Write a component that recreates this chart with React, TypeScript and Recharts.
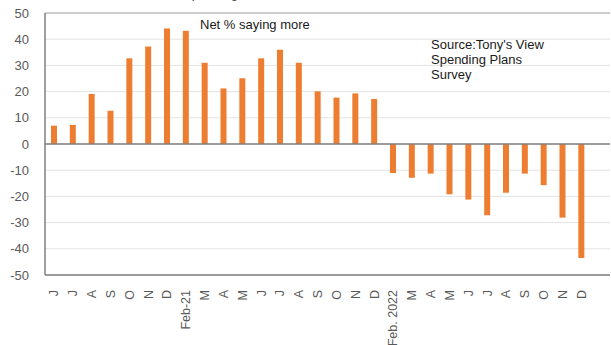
import React from "react";
import { BarChart, Bar, XAxis, YAxis, CartesianGrid, ReferenceLine } from "recharts";

// Monthly survey readings, Jun 2020 through Dec 2022 (January issues not run);
// the trailing blank slot leaves room for the next reading
const monthLabels = [
  "J", "J", "A", "S", "O", "N", "D",
  "Feb-21", "M", "A", "M", "J", "J", "A", "S", "O", "N", "D",
  "Feb. 2022", "M", "A", "M", "J", "J", "A", "S", "O", "N", "D",
  "",
];

const netSayingMore = [
  7, 7.3, 19.1, 12.7, 32.7, 37.2, 44.1,
  43.2, 31, 21.2, 25.1, 32.7, 36, 31, 20.1, 17.7, 19.3, 17.2,
  -11.1, -12.9, -11.3, -19.2, -21.2, -27.2, -18.6, -11.3, -15.7, -28.1, -43.5,
  null,
];

const yTicks = [-50, -40, -30, -20, -10, 0, 10, 20, 30, 40, 50];

const data = monthLabels.map((label, i) => ({ idx: i, label, value: netSayingMore[i] }));

const FONT = "'Liberation Sans', Arial, sans-serif";
const AXIS_TEXT = "#595959";

function MonthTick({ x, y, payload }: any) {
  const label = monthLabels[payload.value];
  return (
    <text
      transform={`translate(${x + 4},${y + 7}) rotate(-90)`}
      textAnchor="end"
      fill={AXIS_TEXT}
      fontSize={12.5}
      fontFamily={FONT}
    >
      {label}
    </text>
  );
}

export default function App() {
  return (
    <div style={{ position: "absolute", left: 0, top: 0, width: 611, height: 345, background: "#fff" }}>
      <BarChart
        width={611}
        height={345}
        data={data}
        margin={{ top: 13, right: 1, bottom: 0, left: 0 }}
        barCategoryGap={0}
      >
        <CartesianGrid vertical={false} stroke="#e3e3e3" />
        <XAxis
          dataKey="idx"
          interval={0}
          tick={<MonthTick />}
          tickLine={false}
          axisLine={{ stroke: "#7f7f7f", strokeWidth: 1.5 }}
          height={70}
        />
        <YAxis
          domain={[-50, 50]}
          ticks={yTicks}
          tick={{ fill: AXIS_TEXT, fontSize: 13, fontFamily: FONT }}
          tickLine={false}
          axisLine={{ stroke: "#7f7f7f", strokeWidth: 1.5 }}
          width={45}
          tickMargin={10}
        />
        <YAxis
          yAxisId="frame"
          orientation="right"
          domain={[-50, 50]}
          tick={false}
          tickLine={false}
          axisLine={{ stroke: "#a6a6a6" }}
          width={0}
        />
        <ReferenceLine y={50} stroke="#a6a6a6" />
        <ReferenceLine y={0} stroke="#7f7f7f" strokeWidth={1.5} />
        <Bar dataKey="value" fill="#ED7D31" barSize={6} isAnimationActive={false} />
        <text x={183} y={-2} fontSize={13} fontFamily={FONT} fill="#404040">
          Spending
        </text>
        <text x={200} y={29} fontSize={13} fontFamily={FONT} fill="#1a1a1a">
          Net % saying more
        </text>
        <text x={431} y={49} fontSize={13} fontFamily={FONT} fill="#1a1a1a">
          <tspan x={431} dy={0}>Source:Tony's View</tspan>
          <tspan x={431} dy={15}>Spending Plans</tspan>
          <tspan x={431} dy={15}>Survey</tspan>
        </text>
      </BarChart>
    </div>
  );
}
